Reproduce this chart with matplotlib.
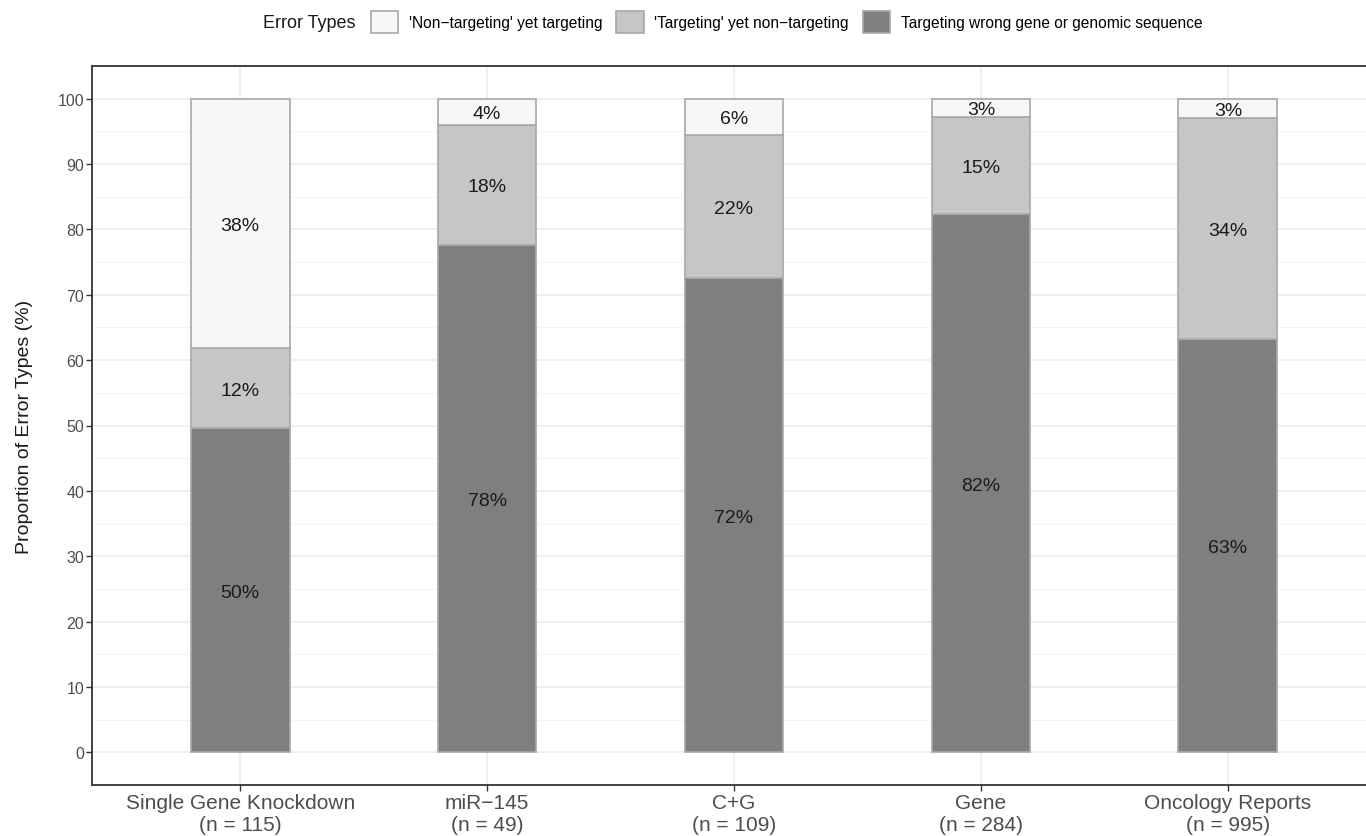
import numpy as np
import matplotlib
matplotlib.use("Agg")
import matplotlib.pyplot as plt
from matplotlib.patches import Patch
from matplotlib.ticker import MultipleLocator

plt.rcParams['font.family'] = ['Liberation Sans', 'DejaVu Sans']

categories = ["Single Gene Knockdown\n(n = 115)", "miR\u2212145\n(n = 49)", "C+G\n(n = 109)",
              "Gene\n(n = 284)", "Oncology Reports\n(n = 995)"]
wrong_gene = [49.6, 77.6, 72.5, 82.4, 63.3]
targeting_non = [12.2, 18.4, 22.0, 14.8, 33.8]
nontargeting_yet = [38.2, 4.0, 5.5, 2.8, 2.9]

series_names = ["'Non\u2212targeting' yet targeting", "'Targeting' yet non\u2212targeting",
                "Targeting wrong gene or genomic sequence"]
colors = ["#F7F7F7", "#C6C6C6", "#7F7F7F"]
edge = "#A8A8A8"

fig = plt.figure(figsize=(13.66, 8.37), dpi=100)
ax = fig.add_axes([92/1366, 51/837, (1376-92)/1366, (786-67)/837])

x = np.arange(1, len(categories) + 1)
w = 0.4
stack = [(wrong_gene, colors[2]), (targeting_non, colors[1]), (nontargeting_yet, colors[0])]
bottom = np.zeros(len(x))
for vals, c in stack:
    vals = np.array(vals)
    ax.bar(x, vals, w, bottom=bottom, color=c, edgecolor=edge, linewidth=1.2, zorder=3)
    for xi, b, v in zip(x, bottom, vals):
        ax.text(xi, b + v / 2, f"{v:.0f}%", ha='center', va='center_baseline', fontsize=14,
                color='#1a1a1a', zorder=4)
    bottom += vals

ax.set_xlim(0.4, len(x) + 0.6)
ax.set_ylim(-5, 105)
ax.set_xticks(x)
ax.set_xticklabels(categories, fontsize=15, color='#4D4D4D', linespacing=1.2)
ax.yaxis.set_major_locator(MultipleLocator(10))
ax.yaxis.set_minor_locator(MultipleLocator(5))
ax.tick_params(axis='y', labelsize=11.5, labelcolor='#4D4D4D', color='#333333', length=4, width=1, pad=1.5)
ax.tick_params(axis='y', which='minor', length=0)
ax.tick_params(axis='x', color='#333333', length=4, width=1, pad=2)
ax.grid(which='major', color='#EBEBEB', linewidth=1.1, zorder=0)
ax.grid(which='minor', axis='y', color='#F2F2F2', linewidth=0.6, zorder=0)
ax.set_axisbelow(True)
for s in ax.spines.values():
    s.set_color('#333333')
    s.set_linewidth(1.3)
ax.set_ylabel("Proportion of Error Types (%)", fontsize=14, color='#1a1a1a', labelpad=18)

handles = [Patch(facecolor=c, edgecolor=edge, linewidth=1.2) for c in colors]
fig.text(263/1366, 1 - 23/837, "Error Types", fontsize=13, ha='left', va='center', color='#1a1a1a')
fig.legend(handles, series_names, loc='center left', bbox_to_anchor=(371/1366, 1 - 23/837),
           ncol=3, frameon=False, fontsize=11.2, handlelength=1.74, handleheight=1.8,
           handletextpad=0.7, columnspacing=0.9, borderpad=0, borderaxespad=0)

fig.savefig("out.png", dpi=100)
